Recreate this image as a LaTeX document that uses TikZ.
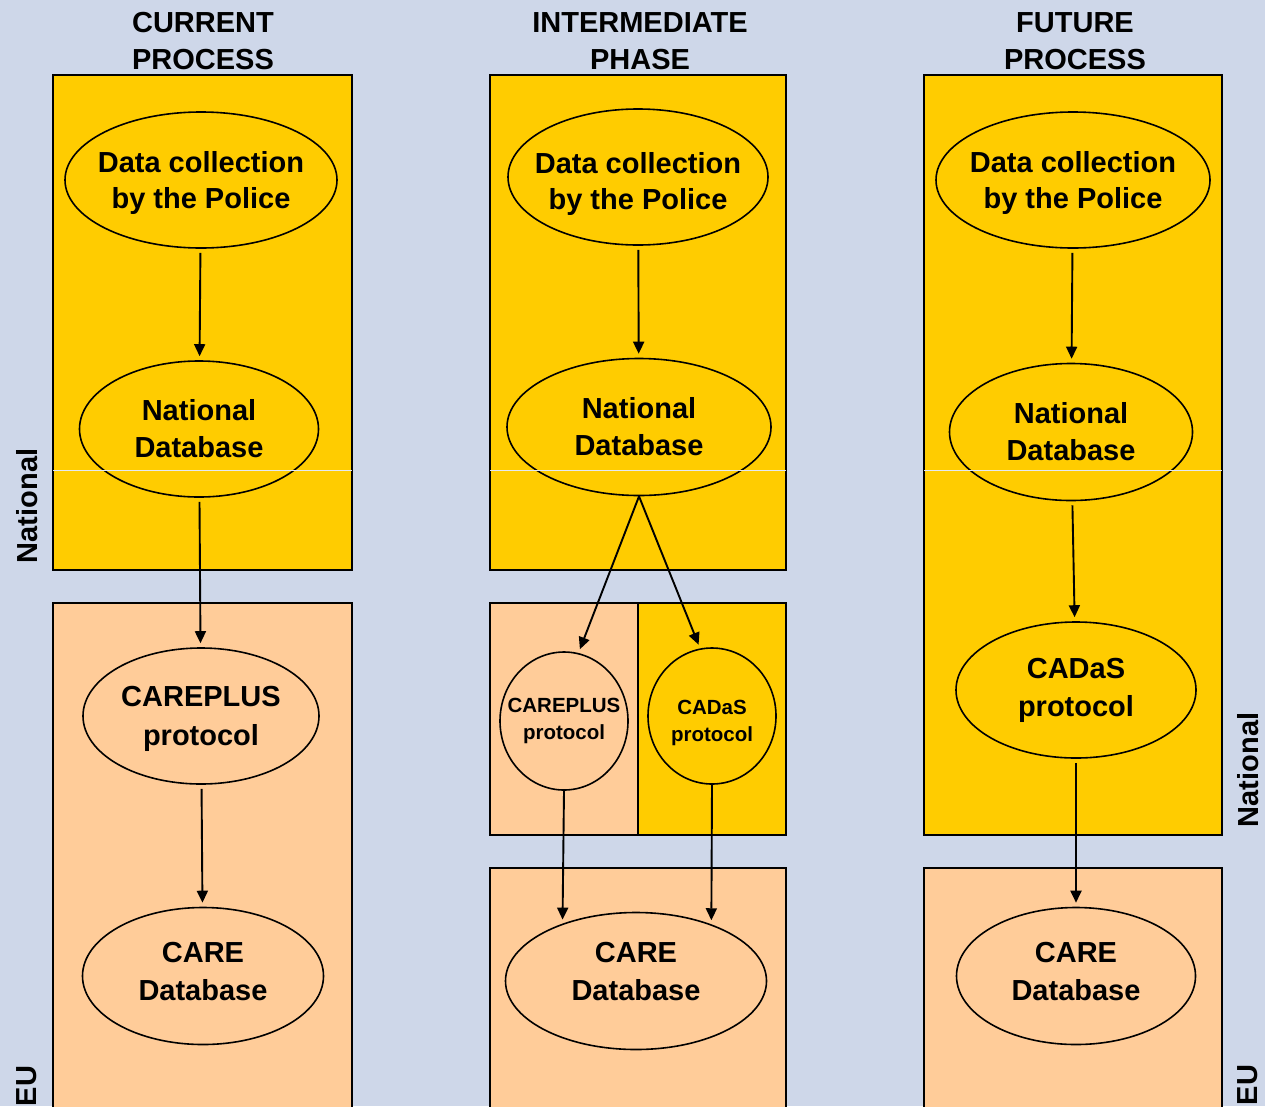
\documentclass[tikz,border=0pt]{standalone}
\usepackage{fontspec}
\setmainfont{Liberation Sans}
\usepackage{tikz}
\usetikzlibrary{arrows.meta,shapes.geometric,positioning}
\definecolor{slideblue}{RGB}{206,215,233}
\definecolor{natyellow}{RGB}{255,204,0}
\definecolor{eupeach}{RGB}{255,204,153}

\tikzset{
  zonebox/.style={draw=black,line width=1.3pt},
  procell/.style={ellipse,draw=black,line width=1.6pt,inner ysep=0pt,inner xsep=-60pt,
    align=center,font=\bfseries\fontsize{29}{37}\selectfont},
  smallcell/.style={procell,minimum width=128pt,minimum height=138pt,
    font=\bfseries\fontsize{20.5}{27}\selectfont},
  heading/.style={align=center,font=\bfseries\fontsize{29}{37}\selectfont},
  sidelabel/.style={rotate=90,font=\bfseries\fontsize{29}{37}\selectfont},
  flow/.style={-{Triangle[length=12pt,width=11pt]},line width=1.9pt,
    shorten <=4pt,shorten >=4pt},
}

\begin{document}
\begin{tikzpicture}[x=1pt,y=-1pt]
        \fill[slideblue] (0,0) rectangle (1265,1106);
        \useasboundingbox (0,0) rectangle (1265,1106);
        % zones
        \draw[zonebox,fill=natyellow] (53,75) rectangle (352,570);
        \draw[zonebox,fill=eupeach] (53,603) rectangle (352,1120);
        \draw[zonebox,fill=natyellow] (490,75) rectangle (786,570);
        \draw[zonebox,fill=eupeach] (490,603) rectangle (638,835);
        \draw[zonebox,fill=natyellow] (638,603) rectangle (786,835);
        \draw[zonebox,fill=eupeach] (490,868) rectangle (786,1120);
        \draw[zonebox,fill=natyellow] (924,75) rectangle (1222,835);
        \draw[zonebox,fill=eupeach] (924,868) rectangle (1222,1120);
        % headings and side labels
        \node[heading] (hcurrent) at (203,41) {CURRENT\\PROCESS};
        \node[heading] (hinter) at (640,41) {INTERMEDIATE\\PHASE};
        \node[heading] (hfuture) at (1075,41) {FUTURE\\PROCESS};
        \node[sidelabel] (natleft) at (27,506) {National};
        \node[sidelabel] (euleft) at (27,1086) {EU};
        \node[sidelabel] (natright) at (1248,770) {National};
        \node[sidelabel] (euright) at (1248,1085) {EU};
        % current process
        \node[procell,fill=natyellow,minimum width=272pt,minimum height=136pt,
          text depth=0pt,font=\bfseries\fontsize{29}{36}\selectfont]
          (police1) at (201,180) {Data collection\\by the Police};
        \node[procell,fill=natyellow,minimum width=239pt,minimum height=136pt]
          (natdb1) at (199,429) {National\\Database};
        \node[procell,fill=eupeach,minimum width=236pt,minimum height=136pt,
          text depth=0pt,font=\bfseries\fontsize{29}{39}\selectfont]
          (careplus1) at (201,716) {CAREPLUS\\protocol};
        \node[procell,fill=eupeach,minimum width=241pt,minimum height=137pt,
          text depth=10pt,font=\bfseries\fontsize{29}{38}\selectfont]
          (care1) at (203,976) {CARE\\Database};
        % intermediate phase
        \node[procell,fill=natyellow,minimum width=260pt,minimum height=136pt,
          text height=65pt,text depth=0pt,font=\bfseries\fontsize{29}{36}\selectfont]
          (police2) at (638,177) {Data collection\\by the Police};
        \node[procell,fill=natyellow,minimum width=264pt,minimum height=137pt]
          (natdb2) at (639,427) {National\\Database};
        \node[smallcell,fill=eupeach] (careplus2) at (564,721) {CAREPLUS\\protocol};
        \node[smallcell,fill=natyellow,minimum height=136pt,text height=50pt,text depth=0pt]
          (cadas2) at (712,716) {CADaS\\protocol};
        \node[procell,fill=eupeach,minimum width=261pt,minimum height=137pt,
          text depth=20pt,font=\bfseries\fontsize{29}{38}\selectfont]
          (care2) at (636,981) {CARE\\Database};
        % future process
        \node[procell,fill=natyellow,minimum width=274pt,minimum height=136pt,
          text depth=0pt,font=\bfseries\fontsize{29}{36}\selectfont]
          (police3) at (1073,180) {Data collection\\by the Police};
        \node[procell,fill=natyellow,minimum width=243pt,minimum height=137pt]
          (natdb3) at (1071,432) {National\\Database};
        \node[procell,fill=natyellow,minimum width=240pt,minimum height=136pt,
          font=\bfseries\fontsize{29}{38}\selectfont]
          (cadas3) at (1076,690) {CADaS\\protocol};
        \node[procell,fill=eupeach,minimum width=239pt,minimum height=137pt,
          text depth=10pt,font=\bfseries\fontsize{29}{38}\selectfont]
          (care3) at (1076,976) {CARE\\Database};
        % thin border line between levels
        \foreach \xa/\xb in {53/352,490/786,924/1222}{
          \draw[white!45!slideblue,line width=1pt] (\xa,470) -- (\xb,470);
        }
        % flows
        \draw[flow] (police1) -- (natdb1);
        \draw[flow] (natdb1) -- (careplus1);
        \draw[flow] (careplus1) -- (care1);
        \draw[flow] (police2) -- (natdb2);
        \draw[flow,shorten <=0pt] (natdb2.south) -- (careplus2.78);
        \draw[flow,shorten <=0pt] (natdb2.south) -- (cadas2.100);
        \draw[flow,shorten <=0pt] (careplus2.south) -- (care2.142.5);
        \draw[flow,shorten <=0pt] (cadas2.south) -- (care2.37);
        \draw[flow] (police3) -- (natdb3);
        \draw[flow] (natdb3) -- (cadas3);
        \draw[flow] (cadas3) -- (care3);
      \end{tikzpicture}
\end{document}
